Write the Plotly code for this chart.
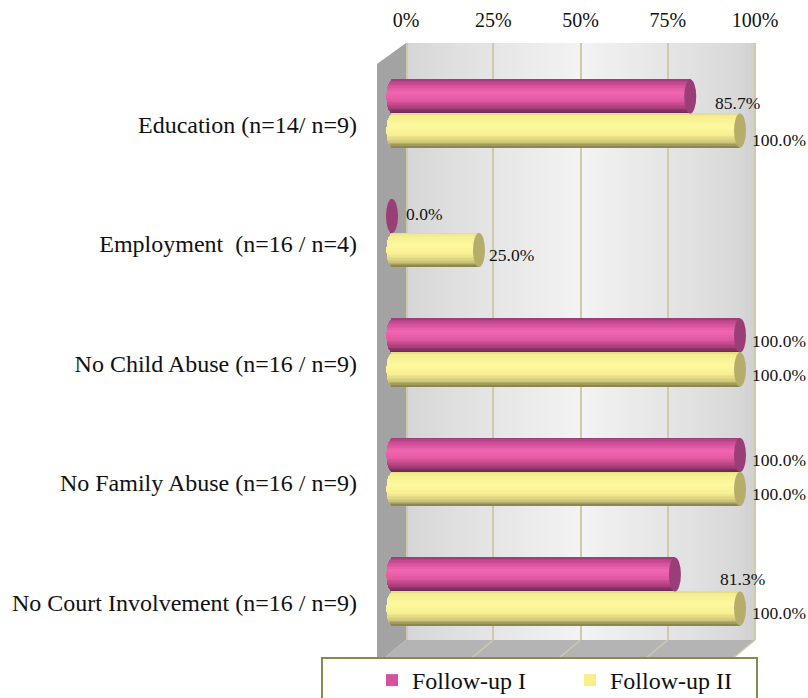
import math
import plotly.graph_objects as go

categories = ["Education (n=14/ n=9)", "Employment  (n=16 / n=4)", "No Child Abuse (n=16 / n=9)",
              "No Family Abuse (n=16 / n=9)", "No Court Involvement (n=16 / n=9)"]
follow_up_1 = [85.7, 0.0, 100.0, 100.0, 81.3]
follow_up_2 = [100.0, 25.0, 100.0, 100.0, 100.0]
x_ticks = [0, 25, 50, 75, 100]
x_tick_labels = ["0%", "25%", "50%", "75%", "100%"]

W, H = 808, 698
def px(v): return v / W
def py(v): return 1 - v / H

SERIF = "Liberation Serif"
BAR_H = 34 / 119.5
PX_PER = 3.48
CAP_W, CAP_H = 12, 34
idx = list(range(len(categories)))

pink_stops = [(0, (150, 58, 115)), (.08, (190, 70, 140)), (.38, (243, 102, 178)), (.62, (225, 88, 160)),
              (.85, (165, 60, 120)), (1, (105, 38, 85))]
yellow_stops = [(0, (225, 218, 130)), (.08, (245, 238, 145)), (.38, (254, 248, 158)), (.65, (247, 238, 145)),
                (.85, (205, 198, 120)), (1, (130, 125, 75))]

def shade(stops, t):
    for (a, ca), (b, cb) in zip(stops, stops[1:]):
        if a <= t <= b:
            f = (t - a) / (b - a)
            return "rgb(%d,%d,%d)" % tuple(round(p + (q - p) * f) for p, q in zip(ca, cb))
    return "rgb(%d,%d,%d)" % stops[-1][1]

fig = go.Figure()

fig.add_trace(go.Scatter(x=x_ticks, y=[0] * 5, xaxis="x", yaxis="y", mode="markers",
                         marker=dict(opacity=0), showlegend=False, hoverinfo="skip"))

N = 24
series = [("Follow-up I", follow_up_1, "#D5559C", pink_stops, -BAR_H),
          ("Follow-up II", follow_up_2, "#FAEE8C", yellow_stops, 0.0)]
for name, vals, col, stops, start in series:
    fig.add_trace(go.Bar(name=name, x=vals, y=idx, orientation="h", xaxis="x2", yaxis="y2",
                         base=0, width=BAR_H, offset=start, marker=dict(color=col, line_width=0)))
    for i in range(N):
        t = (i + .5) / N
        # the rounded left end of the cylinder: each strip starts further left towards the middle
        left = -(CAP_W / 2) * math.sqrt(max(0, 1 - (2 * t - 1) ** 2)) / PX_PER
        fig.add_trace(go.Bar(x=[v - left for v in vals], y=idx, orientation="h", xaxis="x2", yaxis="y2",
                             showlegend=False, base=left, width=BAR_H / N + 0.002, offset=start + BAR_H * i / N,
                             marker=dict(color=shade(stops, t), line_width=0), hoverinfo="skip"))

fig.add_trace(go.Scatter(x=[0] * 5, y=idx, xaxis="x2", yaxis="y3", mode="markers",
                         marker=dict(opacity=0), showlegend=False, hoverinfo="skip"))

shapes = []
wall_l, wall_r, wall_t, wall_b = 406, 755, 43, 640
grad = [(0, 214), (.12, 222), (.3, 232), (.5, 243), (.62, 236), (.8, 226), (.95, 216), (1, 208)]
M = 70
for i in range(M):
    t = (i + .5) / M
    for (a, ca), (b, cb) in zip(grad, grad[1:]):
        if a <= t <= b:
            g = round(ca + (cb - ca) * (t - a) / (b - a))
            break
    x0 = wall_l + (wall_r - wall_l) * i / M
    x1 = wall_l + (wall_r - wall_l) * (i + 1.3) / M
    shapes.append(dict(type="rect", xref="paper", yref="paper", layer="below", x0=px(x0), x1=px(min(x1, wall_r)),
                       y0=py(wall_b), y1=py(wall_t), fillcolor=f"rgb({g},{g},{g})", line_width=0))

def poly(points, fill):
    path = "M" + " L".join(f"{px(a):.5f},{py(b):.5f}" for a, b in points) + " Z"
    return dict(type="path", xref="paper", yref="paper", layer="below", path=path, fillcolor=fill, line_width=0)

shapes.append(poly([(377, 64), (406, 43), (406, 640), (377, 664)], "#A3A3A3"))
shapes.append(poly([(377, 664), (406, 640), (755, 640), (726, 664)], "#B4B4B4"))
GRID = "#CFCBA6"
for t in x_ticks[1:]:
    xb = wall_l + (wall_r - wall_l) * t / 100
    shapes.append(dict(type="line", xref="paper", yref="paper", layer="below",
                       x0=px(xb), y0=py(640), x1=px(xb - 29), y1=py(664), line=dict(color=GRID, width=1.5)))
for xb in (wall_l + 1, wall_r):
    shapes.append(dict(type="line", xref="paper", yref="paper", layer="below",
                       x0=px(xb), y0=py(wall_b), x1=px(xb), y1=py(wall_t), line=dict(color=GRID, width=2)))
shapes.append(dict(type="rect", xref="paper", yref="paper", layer="below", x0=px(322), x1=px(757),
                   y0=py(658), y1=py(702), fillcolor="white", line=dict(color="#8C8850", width=2)))

for name, vals, col, stops, start in series:
    cap = "#9A3E78" if name == "Follow-up I" else "#B5AE6A"
    for i, v in zip(idx, vals):
        yc = i + start + BAR_H / 2
        shapes.append(dict(type="circle", xref="x2", yref="y2", layer="above", xsizemode="pixel", ysizemode="pixel",
                           xanchor=v, yanchor=yc, x0=-CAP_W / 2, x1=CAP_W / 2, y0=-CAP_H / 2, y1=CAP_H / 2,
                           fillcolor=cap, line_width=0))

label_dx_1 = [25, 14, 12, 12, 45]
label_dy_1 = [6, -2, 5, 5, 4]
label_dx_2 = [12, 10, 12, 12, 12]
label_dy_2 = [9, 5, 5, 5, 4]
annotations = []
for vals, start, dxs, dys in [(follow_up_1, -BAR_H, label_dx_1, label_dy_1), (follow_up_2, 0.0, label_dx_2, label_dy_2)]:
    for i, v, dx, dy in zip(idx, vals, dxs, dys):
        annotations.append(dict(x=v, y=i + start + BAR_H / 2, xref="x2", yref="y2", text=f"{v:.1f}%", showarrow=False,
                                xanchor="left", yanchor="middle", xshift=dx, yshift=-dy,
                                font=dict(family=SERIF, size=17.5, color="#111"), borderpad=0, borderwidth=0))

X_LO, X_HI = -3, 110
axis_off = dict(visible=False, showgrid=False, zeroline=False)
fig.update_layout(
    width=W, height=H, autosize=False,
    margin=dict(l=0, r=0, t=0, b=0, pad=0, autoexpand=False),
    paper_bgcolor="white", plot_bgcolor="rgba(0,0,0,0)",
    barmode="overlay", bargap=0,
    font=dict(family=SERIF, color="#111"),
    shapes=shapes, annotations=annotations,
    xaxis=dict(domain=[px(wall_l), px(wall_r)], range=[0, 100], side="top", anchor="y",
               tickvals=x_ticks, ticktext=x_tick_labels, tickfont=dict(family=SERIF, size=20),
               showgrid=True, gridcolor=GRID, gridwidth=2, zeroline=False, showline=False,
               ticks="outside", ticklen=7, tickcolor="rgba(0,0,0,0)", fixedrange=True),
    yaxis=dict(domain=[py(wall_b), py(wall_t)], range=[0, 1], anchor="x", **axis_off),
    xaxis2=dict(domain=[px(392 + X_LO * PX_PER), px(392 + X_HI * PX_PER)], range=[X_LO, X_HI], anchor="y2", **axis_off),
    yaxis2=dict(domain=[py(651.25), py(53.75)], range=[4.5, -0.5], anchor="x2", **axis_off),
    yaxis3=dict(domain=[py(662.25), py(64.75)], range=[4.5, -0.5], anchor="free", position=px(357), side="left",
                tickvals=idx, ticktext=categories, tickfont=dict(family=SERIF, size=24),
                showgrid=False, zeroline=False, showline=False, ticks="", ticklen=0, automargin=False),
    legend=dict(orientation="h", x=px(372), y=py(658), xanchor="left", yanchor="top",
                font=dict(family=SERIF, size=24), bgcolor="rgba(0,0,0,0)", borderwidth=0,
                entrywidth=153, entrywidthmode="pixels", itemclick=False, itemdoubleclick=False),
)
fig.write_html("out.html", config=dict(displayModeBar=False),
               post_script="document.body.style.margin='0';")
